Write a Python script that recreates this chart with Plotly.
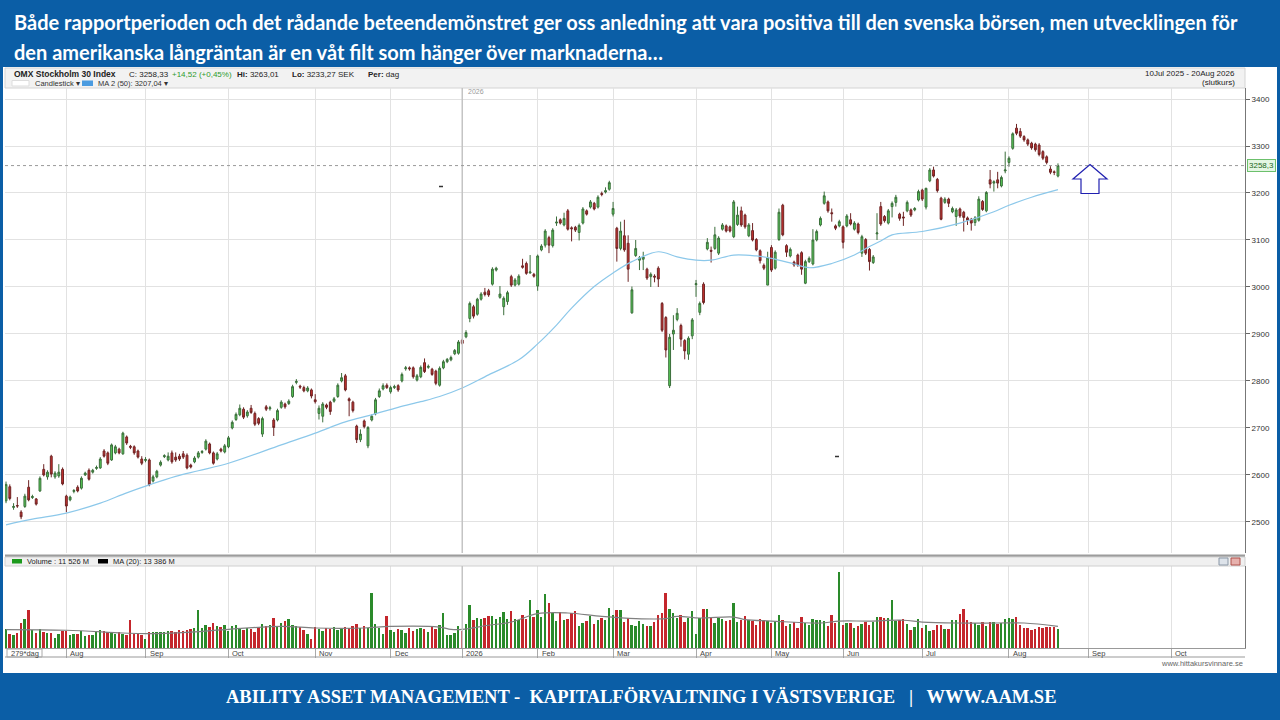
import plotly.graph_objects as go

# OMX Stockholm 30, daily candles 10 Jul 2025 - 20 Aug 2026
open_ = [
    2545, 2575, 2531, 2535, 2521, 2533, 2574, 2552, 2549, 2566,
    2612, 2596, 2640, 2596, 2598, 2612, 2555, 2547, 2565, 2574,
    2572, 2600, 2610, 2606, 2614, 2615, 2651, 2647, 2632, 2647,
    2655, 2645, 2681, 2661, 2660, 2651, 2634, 2631, 2632, 2587,
    2596, 2621, 2639, 2632, 2647, 2638, 2640, 2645, 2642, 2621,
    2628, 2638, 2648, 2655, 2666, 2647, 2634, 2655, 2649, 2660,
    2700, 2718, 2728, 2740, 2726, 2742, 2731, 2720, 2687, 2745,
    2741, 2717, 2717, 2744, 2751, 2752, 2767, 2797, 2789, 2786,
    2779, 2781, 2760, 2731, 2725, 2749, 2755, 2757, 2767, 2800,
    2811, 2762, 2755, 2704, 2675, 2715, 2662, 2717, 2730, 2767,
    2783, 2791, 2777, 2786, 2790, 2800, 2826, 2828, 2828, 2802,
    2809, 2839, 2829, 2825, 2821, 2791, 2828, 2841, 2845, 2858,
    2859, 2887, 2894, 2933, 2958, 2942, 2974, 2989, 2992, 3006,
    3036, 2978, 2958, 2969, 3022, 3004, 3006, 3045, 3050, 3030,
    3027, 3002, 3079, 3089, 3105, 3088, 3136, 3143, 3132, 3162,
    3126, 3127, 3116, 3136, 3162, 3170, 3178, 3170, 3199, 3202,
    3208, 3155, 3125, 3082, 3109, 3093, 2945, 3067, 3057, 3059,
    3038, 3022, 3023, 3040, 2965, 2935, 2790, 2900, 2931, 2918,
    2886, 2857, 2896, 3005, 2946, 3006, 3081, 3078, 3082, 3072,
    3123, 3130, 3128, 3107, 3133, 3162, 3153, 3109, 3120, 3101,
    3077, 3046, 3004, 3084, 3040, 3101, 3174, 3088, 3066, 3053,
    3068, 3073, 3008, 3054, 3049, 3100, 3132, 3178, 3181, 3158,
    3130, 3130, 3128, 3130, 3143, 3123, 3134, 3072, 3101, 3080,
    3052, 3113, 3171, 3150, 3136, 3171, 3180, 3155, 3149, 3162,
    3164, 3164, 3185, 3206, 3170, 3226, 3249, 3229, 3189, 3180,
    3187, 3160, 3150, 3166, 3159, 3147, 3144, 3137, 3142, 3182,
    3162, 3228, 3221, 3228, 3215, 3247, 3265, 3295, 3338, 3331,
    3320, 3313, 3306, 3304, 3302, 3288, 3277, 3251, 3245, 3236,
]
high = [
    2586, 2580, 2540, 2553, 2525, 2560, 2589, 2558, 2551, 2597,
    2623, 2610, 2643, 2608, 2623, 2616, 2558, 2556, 2570, 2578,
    2597, 2607, 2614, 2613, 2620, 2638, 2655, 2650, 2667, 2664,
    2658, 2692, 2684, 2664, 2663, 2654, 2640, 2638, 2635, 2600,
    2611, 2631, 2644, 2648, 2652, 2648, 2645, 2651, 2646, 2624,
    2640, 2651, 2653, 2676, 2669, 2650, 2649, 2658, 2666, 2683,
    2716, 2733, 2750, 2744, 2738, 2749, 2735, 2723, 2724, 2749,
    2747, 2721, 2741, 2759, 2754, 2761, 2792, 2804, 2792, 2790,
    2789, 2784, 2772, 2748, 2755, 2752, 2758, 2766, 2795, 2817,
    2815, 2765, 2758, 2707, 2697, 2718, 2704, 2729, 2764, 2784,
    2795, 2795, 2790, 2792, 2793, 2818, 2832, 2831, 2831, 2815,
    2833, 2848, 2835, 2828, 2824, 2831, 2845, 2849, 2854, 2868,
    2887, 2890, 2908, 2969, 2962, 2977, 2989, 2998, 2996, 3042,
    3043, 3002, 2980, 2992, 3026, 3019, 3027, 3060, 3054, 3068,
    3030, 3069, 3091, 3123, 3109, 3125, 3150, 3146, 3158, 3166,
    3129, 3130, 3135, 3170, 3165, 3185, 3181, 3195, 3203, 3212,
    3226, 3181, 3128, 3139, 3143, 3110, 3001, 3100, 3066, 3075,
    3041, 3031, 3027, 3044, 2968, 2938, 2900, 2940, 2955, 2922,
    2889, 2895, 2934, 3015, 2969, 3010, 3104, 3086, 3128, 3108,
    3136, 3133, 3131, 3185, 3171, 3171, 3156, 3136, 3136, 3104,
    3080, 3050, 3075, 3089, 3078, 3167, 3177, 3091, 3084, 3056,
    3071, 3076, 3058, 3065, 3123, 3122, 3150, 3203, 3184, 3167,
    3133, 3143, 3131, 3155, 3157, 3140, 3137, 3111, 3104, 3083,
    3068, 3157, 3181, 3153, 3166, 3182, 3196, 3158, 3160, 3184,
    3167, 3170, 3207, 3209, 3211, 3253, 3256, 3232, 3192, 3191,
    3190, 3171, 3168, 3169, 3162, 3150, 3147, 3151, 3193, 3185,
    3204, 3249, 3227, 3245, 3237, 3288, 3278, 3329, 3347, 3338,
    3323, 3316, 3309, 3307, 3306, 3291, 3280, 3257, 3248, 3263.01,
]
low = [
    2540, 2546, 2526, 2530, 2506, 2530, 2544, 2549, 2535, 2564,
    2597, 2590, 2595, 2592, 2594, 2578, 2521, 2544, 2561, 2563,
    2569, 2598, 2588, 2603, 2611, 2613, 2637, 2621, 2630, 2644,
    2644, 2643, 2664, 2655, 2643, 2635, 2621, 2627, 2576, 2584,
    2593, 2618, 2636, 2629, 2624, 2628, 2630, 2634, 2612, 2614,
    2625, 2635, 2645, 2652, 2644, 2622, 2631, 2648, 2646, 2657,
    2697, 2715, 2725, 2719, 2722, 2730, 2704, 2706, 2681, 2736,
    2737, 2683, 2714, 2741, 2741, 2749, 2764, 2793, 2783, 2776,
    2776, 2763, 2752, 2718, 2712, 2740, 2728, 2754, 2764, 2797,
    2778, 2725, 2733, 2668, 2670, 2699, 2657, 2714, 2727, 2764,
    2780, 2783, 2773, 2783, 2777, 2797, 2822, 2822, 2805, 2799,
    2806, 2817, 2826, 2811, 2791, 2788, 2825, 2838, 2842, 2855,
    2856, 2877, 2891, 2925, 2933, 2939, 2971, 2980, 2979, 3003,
    3033, 2975, 2940, 2962, 3000, 3001, 3003, 3039, 3026, 3028,
    3020, 2992, 3076, 3084, 3072, 3084, 3130, 3133, 3129, 3120,
    3097, 3117, 3099, 3133, 3152, 3167, 3163, 3167, 3193, 3199,
    3205, 3150, 3054, 3078, 3075, 3011, 2943, 3064, 3036, 3036,
    3015, 3000, 3010, 3000, 2904, 2850, 2785, 2866, 2927, 2873,
    2846, 2845, 2889, 2979, 2940, 2963, 3078, 3052, 3079, 3068,
    3120, 3116, 3116, 3104, 3130, 3128, 3124, 3106, 3097, 3076,
    3050, 3036, 3004, 3032, 3037, 3098, 3108, 3064, 3063, 3043,
    3043, 3026, 3006, 3051, 3046, 3097, 3129, 3175, 3158, 3139,
    3121, 3127, 3082, 3127, 3131, 3120, 3112, 3064, 3068, 3035,
    3049, 3100, 3130, 3137, 3133, 3148, 3171, 3141, 3130, 3159,
    3149, 3161, 3182, 3183, 3165, 3223, 3233, 3201, 3142, 3177,
    3170, 3157, 3130, 3147, 3118, 3132, 3120, 3130, 3139, 3162,
    3159, 3210, 3203, 3210, 3212, 3242, 3256, 3292, 3323, 3317,
    3309, 3300, 3292, 3288, 3278, 3270, 3261, 3240, 3238, 3233.27,
]
close = [
    2580, 2550, 2533, 2534, 2511, 2555, 2547, 2554, 2538, 2593,
    2600, 2606, 2602, 2604, 2606, 2581, 2534, 2553, 2567, 2566,
    2593, 2604, 2591, 2610, 2616, 2634, 2640, 2625, 2664, 2660,
    2647, 2689, 2668, 2659, 2647, 2638, 2625, 2633, 2579, 2596,
    2608, 2627, 2641, 2640, 2628, 2632, 2634, 2638, 2615, 2617,
    2636, 2647, 2650, 2672, 2647, 2625, 2645, 2651, 2662, 2679,
    2712, 2729, 2742, 2723, 2734, 2733, 2708, 2710, 2720, 2740,
    2743, 2701, 2737, 2755, 2745, 2757, 2788, 2799, 2787, 2779,
    2785, 2768, 2756, 2742, 2751, 2744, 2735, 2762, 2791, 2807,
    2781, 2758, 2737, 2675, 2687, 2703, 2701, 2725, 2760, 2779,
    2790, 2786, 2786, 2788, 2781, 2814, 2828, 2826, 2809, 2811,
    2829, 2820, 2831, 2814, 2795, 2827, 2841, 2846, 2850, 2865,
    2883, 2880, 2903, 2965, 2938, 2974, 2985, 2984, 2983, 3038,
    3040, 2985, 2976, 2988, 3004, 3015, 3023, 3042, 3029, 3032,
    3023, 3066, 3087, 3119, 3089, 3121, 3138, 3136, 3146, 3123,
    3124, 3121, 3131, 3166, 3155, 3181, 3166, 3191, 3197, 3205,
    3222, 3167, 3082, 3119, 3079, 3038, 2994, 3082, 3062, 3064,
    3019, 3027, 3021, 3017, 2908, 2866, 2893, 2908, 2944, 2889,
    2864, 2891, 2930, 3007, 2965, 2967, 3095, 3076, 3111, 3104,
    3132, 3119, 3119, 3181, 3153, 3132, 3128, 3132, 3100, 3079,
    3056, 3040, 3062, 3036, 3074, 3159, 3111, 3074, 3080, 3047,
    3047, 3038, 3054, 3061, 3100, 3118, 3146, 3194, 3162, 3156,
    3125, 3139, 3095, 3151, 3134, 3136, 3116, 3107, 3072, 3054,
    3064, 3115, 3134, 3141, 3162, 3178, 3191, 3146, 3147, 3180,
    3153, 3167, 3203, 3187, 3210, 3249, 3236, 3205, 3144, 3187,
    3178, 3167, 3164, 3151, 3148, 3142, 3136, 3147, 3187, 3165,
    3201, 3219, 3224, 3221, 3233, 3249, 3274, 3326, 3327, 3321,
    3313, 3304, 3296, 3292, 3282, 3274, 3265, 3244, 3243.81, 3258.33,
]
# volume in M
volume = [
    11800, 8700, 8100, 9300, 15500, 17900, 23400, 11000, 9500, 11600,
    10200, 9600, 9100, 6200, 8600, 10300, 10500, 8000, 8400, 8900,
    10300, 7600, 8100, 8300, 10800, 10900, 10500, 10000, 9300, 8700,
    9900, 8800, 7900, 17200, 8600, 9500, 8200, 5300, 9800, 10100,
    9900, 10200, 9700, 10800, 10400, 9900, 11200, 10500, 10900, 11500,
    12300, 23400, 12500, 14100, 12800, 15500, 13600, 13200, 14000, 10500,
    13800, 14200, 12400, 11200, 12600, 11800, 9800, 12900, 14800, 13900,
    14500, 18600, 13300, 15400, 16700, 17800, 14100, 13600, 12900, 11400,
    8800, 5600, 12800, 11900, 10300, 12500, 11800, 13000, 11300, 12700,
    13200, 12400, 13500, 14700, 12600, 13800, 12200, 34100, 14700, 12100,
    8600, 19800, 10900, 9800, 11600, 11000, 9400, 12200, 10700, 11900,
    12700, 11500, 10100, 13100, 11800, 14000, 21900, 7800, 8300, 9200,
    13500, 10600, 14700, 26800, 17400, 18300, 17900, 18500, 19600, 20100,
    17700, 19000, 22300, 17800, 22900, 18200, 17400, 20400, 18000, 29600,
    19200, 23800, 19000, 33500, 27900, 21700, 17000, 22300, 17600, 18200,
    21900, 22800, 13900, 15800, 16500, 19900, 14700, 17200, 18300, 17500,
    24800, 20500, 23400, 23400, 16300, 18400, 14000, 13800, 16500, 14600,
    13600, 13900, 16400, 20500, 21800, 34100, 24200, 21400, 18900, 20200,
    16200, 18600, 22800, 8600, 18800, 24200, 24200, 18900, 15600, 18300,
    18000, 16900, 17400, 28000, 16400, 17600, 19800, 17200, 16500, 14300,
    18200, 17400, 16600, 15500, 16700, 20700, 17200, 13600, 14600, 16300,
    12100, 19000, 15400, 14000, 18200, 17500, 17300, 16700, 13600, 20300,
    15200, 47200, 14300, 15200, 15600, 12200, 13800, 14700, 16000, 14000,
    16300, 19000, 19500, 18700, 18400, 29600, 16600, 17100, 18000, 14700,
    11400, 13200, 17800, 12100, 14400, 10700, 11100, 14400, 14000, 12000,
    11500, 17600, 17600, 20900, 24400, 17200, 16000, 15500, 14400, 16000,
    13500, 16300, 16200, 14700, 15800, 18000, 18600, 18200, 19200, 14400,
    12600, 12100, 11400, 12000, 13300, 12400, 13200, 12900, 12800, 11526,
]
# moving averages read at points along the drawn lines (day index, value)
ma50_day = [0, 7, 16, 25, 32, 38, 45, 51, 59, 73, 82, 90, 97, 104, 110, 115,
            121, 128, 136, 141, 146, 150, 156, 161, 166, 173, 178, 183, 187,
            193, 199, 203, 209, 213, 219, 225, 229, 232, 235, 243, 253, 262,
            266, 272, 279]
ma50 = [2494, 2506, 2519, 2540, 2562, 2579, 2597, 2609, 2625, 2664, 2689,
        2713, 2728, 2744, 2756, 2767, 2785, 2813, 2845, 2879, 2919, 2955,
        3001, 3030, 3054, 3075, 3064, 3057, 3057, 3068, 3066, 3061, 3049,
        3041, 3050, 3068, 3086, 3098, 3111, 3118, 3136, 3160, 3174, 3191,
        3207.04]
vol_ma_day = [0, 16, 31, 37, 49, 59, 73, 82, 95, 102, 115, 118, 121, 128, 134,
              141, 149, 158, 167, 175, 178, 184, 193, 196, 203, 216, 221, 229,
              238, 243, 252, 263, 270, 279]
vol_ma = [11400, 11000, 9300, 8900, 9900, 11600, 13400, 12400, 12400, 13400,
          13000, 11600, 11600, 14100, 16100, 21300, 21700, 19600, 18200, 18200,
          19600, 18600, 19200, 17600, 16700, 15500, 16700, 16700, 17200, 16100,
          15500, 15500, 15500, 13386]

month_labels = ["Aug", "Sep", "Oct", "Nov", "Dec", "2026", "Feb", "Mar", "Apr",
                "May", "Jun", "Jul", "Aug", "Sep", "Oct"]
month_day = [16, 37, 59, 82, 102, 121, 141, 161, 183, 203, 222, 243, 266, 287, 309]
price_ticks = [2500, 2600, 2700, 2800, 2900, 3000, 3100, 3200, 3300, 3400]

assert len(open_) == len(high) == len(low) == len(close) == len(volume) == 280

W, H = 1280, 720
BLUE = '#0b5ea6'


def px(x):
    return x / W


def py(y):
    return 1 - y / H


days = list(range(len(close)))
vol_colors = ['#2a8a2a' if c >= o else '#c4262c' for o, c in zip(open_, close)]

fig = go.Figure()
fig.add_trace(go.Candlestick(
    x=days, open=open_, high=high, low=low, close=close,
    increasing=dict(line=dict(color='#3b6e3b', width=1), fillcolor='#57cc57'),
    decreasing=dict(line=dict(color='#6e2424', width=1), fillcolor='#c8312f'),
    showlegend=False, hoverinfo='skip'))
fig.add_trace(go.Scatter(x=ma50_day, y=ma50, mode='lines', line_shape='spline',
                         line=dict(color='#8cc8ea', width=1.2), showlegend=False))
fig.add_trace(go.Bar(x=days, y=volume, marker=dict(color=vol_colors, line_width=0),
                     width=0.5, xaxis='x2', yaxis='y2', showlegend=False))
fig.add_trace(go.Scatter(x=vol_ma_day, y=vol_ma, mode='lines', line_shape='spline',
                         line=dict(color='#808080', width=1.2),
                         xaxis='x2', yaxis='y2', showlegend=False))

xdom = [px(5), px(1245)]
xrange_ = [-0.27, 328.6]
grid = '#e2e2e2'

fig.update_layout(
    width=W, height=H, margin=dict(l=0, r=0, t=0, b=0),
    paper_bgcolor=BLUE, plot_bgcolor='white', bargap=0,
    xaxis=dict(domain=xdom, range=xrange_, anchor='y', tickvals=month_day,
               showticklabels=False, showgrid=True, gridcolor=grid, zeroline=False,
               rangeslider=dict(visible=False), fixedrange=True),
    yaxis=dict(domain=[py(553), py(88)], range=[2434, 3423.4], side='right',
               tickvals=price_ticks, ticktext=[str(t) for t in price_ticks],
               showgrid=True, gridcolor=grid, zeroline=False, ticks='outside',
               ticklen=4, tickcolor='#666', showline=True, linecolor='#777',
               tickfont=dict(family='Liberation Sans', size=8, color='#333')),
    xaxis2=dict(domain=xdom, range=xrange_, anchor='y2', tickvals=month_day,
                showticklabels=False, showgrid=True, gridcolor=grid, zeroline=False,
                ticks='outside', ticklen=9, tickcolor='#aaa', showline=True,
                linecolor='#999'),
    yaxis2=dict(domain=[py(648), py(566)], range=[0, 50840], side='right',
                showticklabels=False, showgrid=False, zeroline=False,
                showline=True, linecolor='#777'),
)

shapes = [
    # white chart panel
    dict(type='rect', xref='paper', yref='paper', x0=px(3), x1=px(1277),
         y0=py(673), y1=py(67), fillcolor='white', line_width=0, layer='below'),
    # header strip
    dict(type='rect', xref='paper', yref='paper', x0=px(5), x1=px(1245),
         y0=py(88), y1=py(68), fillcolor='#f2f2f2', line=dict(color='#d4d4d4', width=1),
         layer='below'),
    # separator + volume header strip
    dict(type='rect', xref='paper', yref='paper', x0=px(5), x1=px(1245),
         y0=py(557), y1=py(554.5), fillcolor='#9c9c9c', line_width=0),
    dict(type='rect', xref='paper', yref='paper', x0=px(5), x1=px(1245),
         y0=py(566), y1=py(557), fillcolor='#f0f0f0', line=dict(color='#d0d0d0', width=1)),
    # volume date strip bottom line and day-count box
    dict(type='line', xref='paper', yref='paper', x0=px(5), x1=px(1245),
         y0=py(657), y1=py(657), line=dict(color='#999', width=1)),
    dict(type='rect', xref='paper', yref='paper', x0=px(7), x1=px(42),
         y0=py(657), y1=py(649), line=dict(color='#aaa', width=1)),
    # 2026 year line
    dict(type='line', xref='x', yref='paper', x0=month_day[5], x1=month_day[5],
         y0=py(553), y1=py(88), line=dict(color='#c4c4c4', width=1.5)),
    dict(type='line', xref='x2', yref='paper', x0=month_day[5], x1=month_day[5],
         y0=py(648), y1=py(566), line=dict(color='#c4c4c4', width=1.5)),
    # last close dotted line
    dict(type='line', xref='paper', yref='y', x0=xdom[0], x1=xdom[1],
         y0=close[-1], y1=close[-1], line=dict(color='#9a9a9a', width=1, dash='dot')),
    # small drawing marks
    dict(type='line', xref='paper', yref='paper', x0=px(439), x1=px(443),
         y0=py(186.5), y1=py(186.5), line=dict(color='#333', width=1.5)),
    dict(type='line', xref='paper', yref='paper', x0=px(835), x1=px(839),
         y0=py(456.5), y1=py(456.5), line=dict(color='#333', width=1.5)),
    # volume header icons
    dict(type='rect', xref='paper', yref='paper', x0=px(1219), x1=px(1228),
         y0=py(565), y1=py(558), fillcolor='#dde3ea', line=dict(color='#8a97a6', width=1)),
    dict(type='rect', xref='paper', yref='paper', x0=px(1231), x1=px(1240),
         y0=py(565), y1=py(558), fillcolor='#e7b1ad', line=dict(color='#b0504a', width=1)),
    # legend swatches
    dict(type='rect', xref='paper', yref='paper', x0=px(12), x1=px(29),
         y0=py(86), y1=py(80.5), fillcolor='white', line=dict(color='#ddd', width=1)),
    dict(type='rect', xref='paper', yref='paper', x0=px(82), x1=px(93),
         y0=py(86), y1=py(80.5), fillcolor='#4a9be0', line_width=0),
    dict(type='rect', xref='paper', yref='paper', x0=px(12), x1=px(22),
         y0=py(563.5), y1=py(559), fillcolor='#1c9a1c', line_width=0),
    dict(type='rect', xref='paper', yref='paper', x0=px(98), x1=px(108),
         y0=py(563.5), y1=py(559), fillcolor='black', line_width=0),
]

# hollow up-arrow next to the last candle
arrow = [(1090, 164.5), (1107, 179), (1099, 179), (1099, 193.5),
         (1081, 193.5), (1081, 179), (1073, 179)]
path = 'M ' + ' L '.join(f'{px(x):.5f},{py(y):.5f}' for x, y in arrow) + ' Z'
shapes.append(dict(type='path', xref='paper', yref='paper', path=path,
                   fillcolor='white', line=dict(color='#2020b0', width=1.2)))
fig.update_layout(shapes=shapes)

ann = []


def text(x, y, s, size=8, color='#222', anchor='left', family='Liberation Sans', **kw):
    ann.append(dict(x=px(x), y=py(y), xref='paper', yref='paper', text=s,
                    showarrow=False, xanchor=anchor, yanchor='middle',
                    font=dict(family=family, size=size, color=color), **kw))


title_font = 'Lato'
text(12, 22, '<b>Både rapportperioden och det rådande beteendemönstret ger oss anledning att vara '
     'positiva till den svenska börsen, men utvecklingen för</b>', size=20,
     color='white', family=title_font)
text(12, 52, '<b>den amerikanska långräntan är en våt filt som hänger över marknaderna…</b>',
     size=20, color='white', family=title_font)
text(641, 697, '<b>ABILITY ASSET MANAGEMENT -\u00a0 KAPITALFÖRVALTNING I VÄSTSVERIGE'
     '\u00a0\u00a0 |\u00a0\u00a0 WWW.AAM.SE</b>', size=18.5, color='white',
     anchor='center', family='Liberation Serif')

# chart header
text(12, 74.5, '<b>OMX Stockholm 30 Index</b>', size=8.5)
text(127, 74.5, 'C: 3258,33', size=8)
text(170, 74.5, '+14,52 (+0,45%)', size=8, color='#2e9b2e')
text(235, 74.5, '<b>Hi:</b> 3263,01', size=8)
text(290, 74.5, '<b>Lo:</b> 3233,27', size=8)
text(336, 74.5, 'SEK', size=8)
text(366, 74.5, '<b>Per:</b> dag', size=8)
text(33, 83.5, 'Candlestick \u25be', size=7.5, color='#333')
text(96, 83.5, 'MA 2 (50): 3207,04 \u25be', size=7.5, color='#333')
text(1237, 73.5, '10Jul 2025 - 20Aug 2026', size=8, anchor='right')
text(1237, 82, '(slutkurs)', size=8, anchor='right')
text(466, 91.5, '2026', size=7, color='#9a9a9a')

# last value tag on the price axis
ann.append(dict(x=px(1247), y=close[-1], xref='paper', yref='y', text='3258,3',
                showarrow=False, xanchor='left', yanchor='middle',
                font=dict(family='Liberation Sans', size=8, color='#226622'),
                bgcolor='#e4f6e4', bordercolor='#6cc06c', borderwidth=1, borderpad=1))

# volume header + footer
text(25, 561.5, 'Volume : 11 526 M', size=7.5)
text(111, 561.5, 'MA (20): 13 386 M', size=7.5)
text(9, 653, '279*dag', size=7.5, color='#444')
for lab, d in zip(month_labels, month_day):
    ann.append(dict(x=d, y=py(653), xref='x2', yref='paper', text=lab,
                    showarrow=False, xanchor='left', yanchor='middle', xshift=2,
                    font=dict(family='Liberation Sans', size=7.5, color='#444')))
text(1245, 663, 'www.hittakursvinnare.se', size=7.5, color='#666', anchor='right')

fig.update_layout(annotations=ann)
# the page body has a default margin; drop it so the 1280x720 figure fills the window
fig.write_html("out.html", config={'displayModeBar': False},
               post_script="document.body.style.margin='0';"
                           "document.body.style.overflow='hidden';")
